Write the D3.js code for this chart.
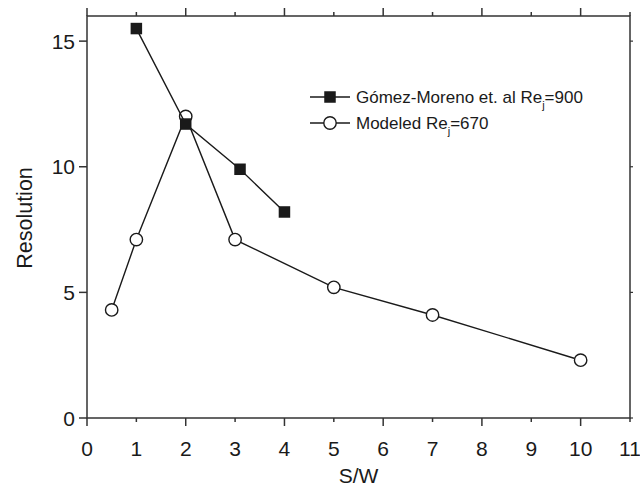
<!DOCTYPE html>
<html>
<head>
<meta charset="utf-8">
<script src="https://cdn.jsdelivr.net/npm/d3@7"></script>
<style>
  html, body { margin: 0; padding: 0; background: #fff; }
  svg { display: block; font-family: "Liberation Sans", Arial, sans-serif; }
</style>
</head>
<body>
<svg id="chart" width="640" height="488"></svg>
<script>
// Resolution versus S/W
const gomezX = [1, 2, 3.1, 4];
const gomezY = [15.5, 11.7, 9.9, 8.2];
const modeledX = [0.5, 1, 2, 3, 5, 7, 10];
const modeledY = [4.3, 7.1, 12.0, 7.1, 5.2, 4.1, 2.3];
const xTicks = [0, 1, 2, 3, 4, 5, 6, 7, 8, 9, 10, 11];
const yTicks = [0, 5, 10, 15];
const legendNames = [["Gómez-Moreno et. al Re", "j", "=900"], ["Modeled Re", "j", "=670"]];

const svg = d3.select("#chart");
const margin = { left: 87, right: 10, top: 16, bottom: 70 };
const W = 640, H = 488;
const x = d3.scaleLinear().domain([0, 11]).range([margin.left, W - margin.right]);
const y = d3.scaleLinear().domain([0, 16]).range([H - margin.bottom, margin.top]);
const ink = "#1a1a1a";
const axisInk = "#333";

// frame
svg.append("rect")
  .attr("x", x(0)).attr("y", y(16))
  .attr("width", x(11) - x(0)).attr("height", y(0) - y(16))
  .attr("fill", "none").attr("stroke", axisInk).attr("stroke-width", 1.5);

// bottom and top ticks: long on even values, short on odd
const tickLen = v => (v % 2 === 0 ? 8 : 4);
svg.append("g").selectAll("line").data(xTicks).join("line")
  .attr("x1", d => x(d)).attr("x2", d => x(d))
  .attr("y1", y(0)).attr("y2", d => y(0) + tickLen(d))
  .attr("stroke", axisInk).attr("stroke-width", 1.5);
svg.append("g").selectAll("line").data(xTicks).join("line")
  .attr("x1", d => x(d)).attr("x2", d => x(d))
  .attr("y1", y(16)).attr("y2", d => y(16) - tickLen(d))
  .attr("stroke", axisInk).attr("stroke-width", 1.5);
svg.append("g").selectAll("line").data(yTicks).join("line")
  .attr("x1", x(0) - 8).attr("x2", x(0))
  .attr("y1", d => y(d)).attr("y2", d => y(d))
  .attr("stroke", axisInk).attr("stroke-width", 1.5);
svg.append("g").selectAll("line").data(yTicks).join("line")
  .attr("x1", x(11)).attr("x2", x(11) + 3)
  .attr("y1", d => y(d)).attr("y2", d => y(d))
  .attr("stroke", axisInk).attr("stroke-width", 1.2);

// tick labels
svg.append("g").selectAll("text").data(xTicks).join("text")
  .attr("x", d => x(d)).attr("y", y(0) + 38)
  .attr("text-anchor", "middle").attr("font-size", 21).attr("fill", ink)
  .text(d => d);
svg.append("g").selectAll("text").data(yTicks).join("text")
  .attr("x", x(0) - 12).attr("y", d => y(d) + 7.5)
  .attr("text-anchor", "end").attr("font-size", 21).attr("fill", ink)
  .text(d => d);

// axis titles
svg.append("text")
  .attr("x", (x(0) + x(11)) / 2).attr("y", H - 5)
  .attr("text-anchor", "middle").attr("font-size", 21).attr("fill", ink)
  .text("S/W");
svg.append("text")
  .attr("transform", `translate(31.5,218) rotate(-90)`)
  .attr("text-anchor", "middle").attr("font-size", 21.5).attr("fill", ink)
  .text("Resolution");

const line = d3.line().x(d => x(d[0])).y(d => y(d[1]));
const modeled = modeledX.map((v, i) => [v, modeledY[i]]);
const gomez = gomezX.map((v, i) => [v, gomezY[i]]);

// modeled series: open circles
svg.append("path").datum(modeled).attr("d", line)
  .attr("fill", "none").attr("stroke", ink).attr("stroke-width", 1.4);
svg.append("g").selectAll("circle").data(modeled).join("circle")
  .attr("cx", d => x(d[0])).attr("cy", d => y(d[1])).attr("r", 6.2)
  .attr("fill", "#fff").attr("stroke", ink).attr("stroke-width", 1.4);

// measured series: filled squares
const sq = 11.5;
svg.append("path").datum(gomez).attr("d", line)
  .attr("fill", "none").attr("stroke", ink).attr("stroke-width", 1.4);
svg.append("g").selectAll("rect").data(gomez).join("rect")
  .attr("x", d => x(d[0]) - sq / 2).attr("y", d => y(d[1]) - sq / 2)
  .attr("width", sq).attr("height", sq).attr("fill", ink);

// legend
const lg = svg.append("g");
const lx0 = 310, lx1 = 350, ly = [97, 123];
legendNames.forEach((parts, i) => {
  lg.append("line").attr("x1", lx0).attr("x2", lx1).attr("y1", ly[i]).attr("y2", ly[i])
    .attr("stroke", ink).attr("stroke-width", 1.4);
  if (i === 0) {
    lg.append("rect").attr("x", (lx0 + lx1) / 2 - sq / 2).attr("y", ly[i] - sq / 2)
      .attr("width", sq).attr("height", sq).attr("fill", ink);
  } else {
    lg.append("circle").attr("cx", (lx0 + lx1) / 2).attr("cy", ly[i]).attr("r", 6.2)
      .attr("fill", "#fff").attr("stroke", ink).attr("stroke-width", 1.4);
  }
  const t = lg.append("text").attr("x", lx1 + 6).attr("y", ly[i] + 6)
    .attr("font-size", 17).attr("fill", ink);
  t.append("tspan").text(parts[0]);
  t.append("tspan").attr("font-size", 11).attr("dy", 6).text(parts[1]);
  t.append("tspan").attr("dy", -6).text(parts[2]);
});
</script>
</body>
</html>
